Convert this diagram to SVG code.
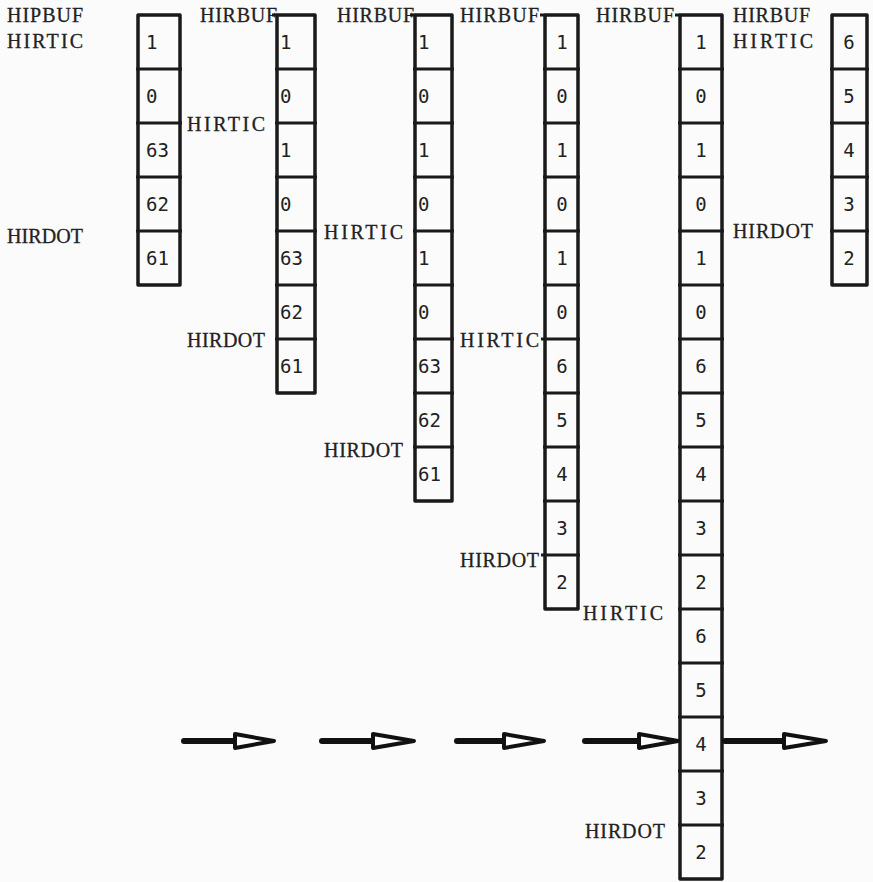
<svg xmlns="http://www.w3.org/2000/svg" width="873" height="882" viewBox="0 0 873 882">
<style>
.bg{fill:#fbfbfb}
.box{fill:none;stroke:#1a1a1a;stroke-width:3.5;stroke-linejoin:round}
.div{stroke:#1a1a1a;stroke-width:3}
.lbl{font-family:"Liberation Serif","Times New Roman",serif;font-size:20px;fill:#222;stroke:#222;stroke-width:0.3}
.num{font-family:"DejaVu Sans Mono","Liberation Mono",monospace;font-size:19px;fill:#222}
.c{text-anchor:middle}
.shaft{stroke:#111;stroke-width:6;stroke-linecap:round}
.head{fill:#fff;stroke:#111;stroke-width:4;stroke-linejoin:round}
</style>
<rect class="bg" x="0" y="0" width="873" height="882"/>

<g id="col1">
<text class="lbl" x="7" y="22" textLength="76" lengthAdjust="spacing">HIPBUF</text>
<text class="lbl" x="7" y="48" textLength="76" lengthAdjust="spacing">HIRTIC</text>
<text class="lbl" x="7" y="243" textLength="76" lengthAdjust="spacing">HIRDOT</text>
<rect class="box" x="138" y="15" width="42" height="270"/>
<path class="div" d="M136 69H182M136 123H182M136 177H182M136 231H182"/>
<text class="num" x="146" y="49">1</text>
<text class="num" x="146" y="103">0</text>
<text class="num" x="146" y="157">63</text>
<text class="num" x="146" y="211">62</text>
<text class="num" x="146" y="265">61</text>
</g>

<g id="col2">
<text class="lbl" x="200" y="22" textLength="77" lengthAdjust="spacing">HIRBUF</text>
<text class="lbl" x="187" y="131" textLength="78" lengthAdjust="spacing">HIRTIC</text>
<text class="lbl" x="187" y="347" textLength="78" lengthAdjust="spacing">HIRDOT</text>
<rect class="box" x="277" y="15" width="38" height="378"/>
<path class="div" d="M272 15H277M275 69H317M275 123H317M275 177H317M275 231H317M275 285H317M275 339H317"/>
<text class="num" x="280" y="49">1</text>
<text class="num" x="280" y="103">0</text>
<text class="num" x="280" y="157">1</text>
<text class="num" x="280" y="211">0</text>
<text class="num" x="280" y="265">63</text>
<text class="num" x="280" y="319">62</text>
<text class="num" x="280" y="373">61</text>
</g>

<g id="col3">
<text class="lbl" x="337" y="22" textLength="77" lengthAdjust="spacing">HIRBUF</text>
<text class="lbl" x="324" y="239" textLength="79" lengthAdjust="spacing">HIRTIC</text>
<text class="lbl" x="324" y="457" textLength="79" lengthAdjust="spacing">HIRDOT</text>
<rect class="box" x="415" y="15" width="37" height="486"/>
<path class="div" d="M410 15H415M413 69H454M413 123H454M413 177H454M413 231H454M413 285H454M413 339H454M413 393H454M413 447H454"/>
<text class="num" x="418" y="49">1</text>
<text class="num" x="418" y="103">0</text>
<text class="num" x="418" y="157">1</text>
<text class="num" x="418" y="211">0</text>
<text class="num" x="418" y="265">1</text>
<text class="num" x="418" y="319">0</text>
<text class="num" x="418" y="373">63</text>
<text class="num" x="418" y="427">62</text>
<text class="num" x="418" y="481">61</text>
</g>

<g id="col4">
<text class="lbl" x="460" y="22" textLength="79" lengthAdjust="spacing">HIRBUF</text>
<text class="lbl" x="460" y="347" textLength="79" lengthAdjust="spacing">HIRTIC</text>
<text class="lbl" x="460" y="567" textLength="79" lengthAdjust="spacing">HIRDOT</text>
<rect class="box" x="545" y="15" width="33" height="594"/>
<path class="div" d="M540 15H545M543 69H580M543 123H580M543 177H580M543 231H580M543 285H580M541 339H580M543 393H580M543 447H580M543 501H580M541 555H580"/>
<text class="num c" x="562" y="49">1</text>
<text class="num c" x="562" y="103">0</text>
<text class="num c" x="562" y="157">1</text>
<text class="num c" x="562" y="211">0</text>
<text class="num c" x="562" y="265">1</text>
<text class="num c" x="562" y="319">0</text>
<text class="num c" x="562" y="373">6</text>
<text class="num c" x="562" y="427">5</text>
<text class="num c" x="562" y="481">4</text>
<text class="num c" x="562" y="535">3</text>
<text class="num c" x="562" y="589">2</text>
</g>

<g id="col5">
<text class="lbl" x="596" y="22" textLength="78" lengthAdjust="spacing">HIRBUF</text>
<text class="lbl" x="583" y="620" textLength="80" lengthAdjust="spacing">HIRTIC</text>
<text class="lbl" x="585" y="838" textLength="80" lengthAdjust="spacing">HIRDOT</text>
<rect class="box" x="680" y="15" width="42" height="864"/>
<path class="div" d="M675 15H680M678 69H724M678 123H724M678 177H724M678 231H724M678 285H724M678 339H724M678 393H724M678 447H724M678 501H724M678 555H724M678 609H724M678 663H724M678 717H724M678 771H724M678 825H724"/>
<text class="num c" x="701" y="49">1</text>
<text class="num c" x="701" y="103">0</text>
<text class="num c" x="701" y="157">1</text>
<text class="num c" x="701" y="211">0</text>
<text class="num c" x="701" y="265">1</text>
<text class="num c" x="701" y="319">0</text>
<text class="num c" x="701" y="373">6</text>
<text class="num c" x="701" y="427">5</text>
<text class="num c" x="701" y="481">4</text>
<text class="num c" x="701" y="535">3</text>
<text class="num c" x="701" y="589">2</text>
<text class="num c" x="701" y="643">6</text>
<text class="num c" x="701" y="697">5</text>
<text class="num c" x="701" y="751">4</text>
<text class="num c" x="701" y="805">3</text>
<text class="num c" x="701" y="859">2</text>
</g>

<g id="col6">
<text class="lbl" x="733" y="22" textLength="77" lengthAdjust="spacing">HIRBUF</text>
<text class="lbl" x="733" y="48" textLength="80" lengthAdjust="spacing">HIRTIC</text>
<text class="lbl" x="733" y="238" textLength="80" lengthAdjust="spacing">HIRDOT</text>
<rect class="box" x="832" y="15" width="35" height="270"/>
<path class="div" d="M830 69H869M830 123H869M830 177H869M830 231H869"/>
<text class="num c" x="849" y="49">6</text>
<text class="num c" x="849" y="103">5</text>
<text class="num c" x="849" y="157">4</text>
<text class="num c" x="849" y="211">3</text>
<text class="num c" x="849" y="265">2</text>
</g>

<g id="connectors">
<path class="shaft" d="M184 741H236"/>
<polygon class="head" points="235,734 274,741 235,748"/>
<path class="shaft" d="M322 741H374"/>
<polygon class="head" points="373,734 414,741 373,748"/>
<path class="shaft" d="M457 741H505"/>
<polygon class="head" points="504,734 544,741 504,748"/>
<path class="shaft" d="M585 741H640"/>
<polygon class="head" points="639,734 678,741 639,748"/>
<path class="shaft" d="M725 741H785"/>
<polygon class="head" points="784,734 826,741 784,748"/>
</g>
</svg>
